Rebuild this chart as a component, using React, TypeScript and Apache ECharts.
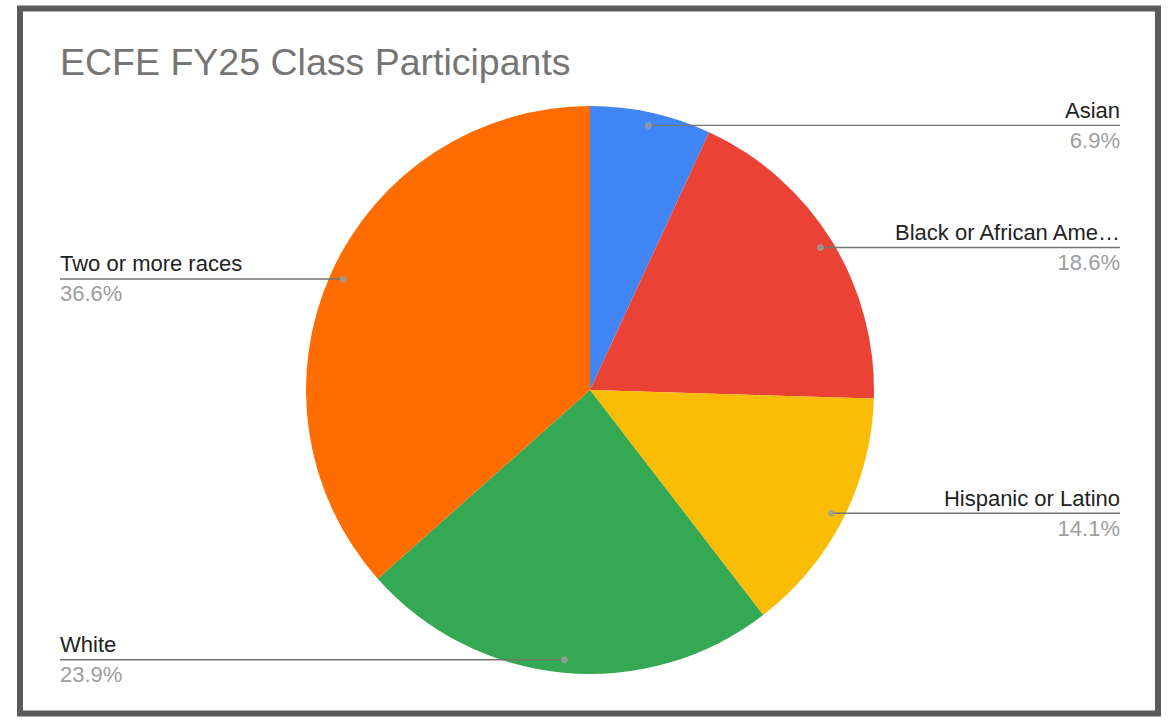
import React, { useEffect, useRef } from 'react';
import * as echarts from 'echarts';

const categories = ['Asian', 'Black or African American', 'Hispanic or Latino', 'White', 'Two or more races'];
const shares = [6.9, 18.6, 14.1, 23.9, 36.6];
const colors = ['#4285F4', '#EA4335', '#FBBC04', '#34A853', '#FF6D01'];
const titleText = 'ECFE FY25 Class Participants';

const FONT = '"Liberation Sans", Arial, sans-serif';
const W = 1175;
const H = 721;

export default function App() {
  const ref = useRef<HTMLDivElement>(null);
  useEffect(() => {
    const chart = echarts.init(ref.current as HTMLDivElement, null, { renderer: 'svg' });
    const total = shares.reduce((a, b) => a + b, 0);
    let acc = 0;
    const dots = shares.map((v) => {
      const mid = acc + v / 2;
      acc += v;
      return [0.954, mid];
    });
    const option: any = {
      animation: false,
      backgroundColor: '#ffffff',
      title: {
        text: titleText,
        left: 55,
        top: 38,
        textStyle: { fontFamily: FONT, fontSize: 37.5, fontWeight: 'normal', color: '#757575' },
      },
      polar: { center: [590, 390], radius: 284 },
      angleAxis: { type: 'value', min: 0, max: total, startAngle: 90, clockwise: true, show: false },
      radiusAxis: { type: 'value', min: 0, max: 1, show: false },
      graphic: [
        {
          type: 'rect',
          shape: { x: 20, y: 8.5, width: 1138, height: 705 },
          style: { fill: 'none', stroke: '#5b5b5b', lineWidth: 6 },
          z: 100,
        },
      ],
      series: [
        {
          type: 'pie',
          radius: 284,
          center: [590, 390],
          startAngle: 90,
          clockwise: true,
          silent: true,
          z: 1,
          label: { show: false },
          labelLine: { show: false },
          itemStyle: { borderWidth: 0 },
          data: categories.map((n, i) => ({ name: n, value: shares[i], itemStyle: { color: colors[i] } })),
        },
        {
          type: 'pie',
          left: 60,
          right: 55,
          top: 0,
          bottom: 0,
          center: [530, 390],
          radius: 271,
          startAngle: 90,
          clockwise: true,
          silent: true,
          z: 5,
          itemStyle: { color: 'rgba(0,0,0,0)', borderWidth: 0 },
          emphasis: { disabled: true },
          label: {
            show: true,
            alignTo: 'edge',
            edgeDistance: 0,
            minMargin: 5,
            formatter: (p: any) => `{n|${p.name}}\n{p|${Number(p.value).toFixed(1)}%}`,
            rich: {
              n: { fontFamily: FONT, fontSize: 22, color: '#222222', lineHeight: 30 },
              p: { fontFamily: FONT, fontSize: 22, color: '#9e9e9e', lineHeight: 30 },
            },
          },
          labelLine: { show: true, length: 0, length2: 10, lineStyle: { color: '#757575', width: 1.4 } },
          labelLayout: (params: any) => {
            const pts = params.labelLinePoints;
            if (!pts) return {};
            const isLeft = params.labelRect.x < W / 2;
            pts[2][0] = isLeft ? params.labelRect.x : params.labelRect.x + params.labelRect.width;
            return { labelLinePoints: pts };
          },
          data: categories.map((n, i) => ({
            name: n,
            value: shares[i],
            label: i === 1 ? { width: 234, overflow: 'truncate', ellipsis: '…' } : undefined,
          })),
        },
        {
          type: 'scatter',
          coordinateSystem: 'polar',
          silent: true,
          z: 10,
          symbolSize: 7,
          itemStyle: { color: '#9e9e9e' },
          data: dots,
        },
      ],
    };
    chart.setOption(option);
    return () => chart.dispose();
  }, []);
  return <div ref={ref} style={{ position: 'fixed', left: 0, top: 0, width: W, height: H }} />;
}
